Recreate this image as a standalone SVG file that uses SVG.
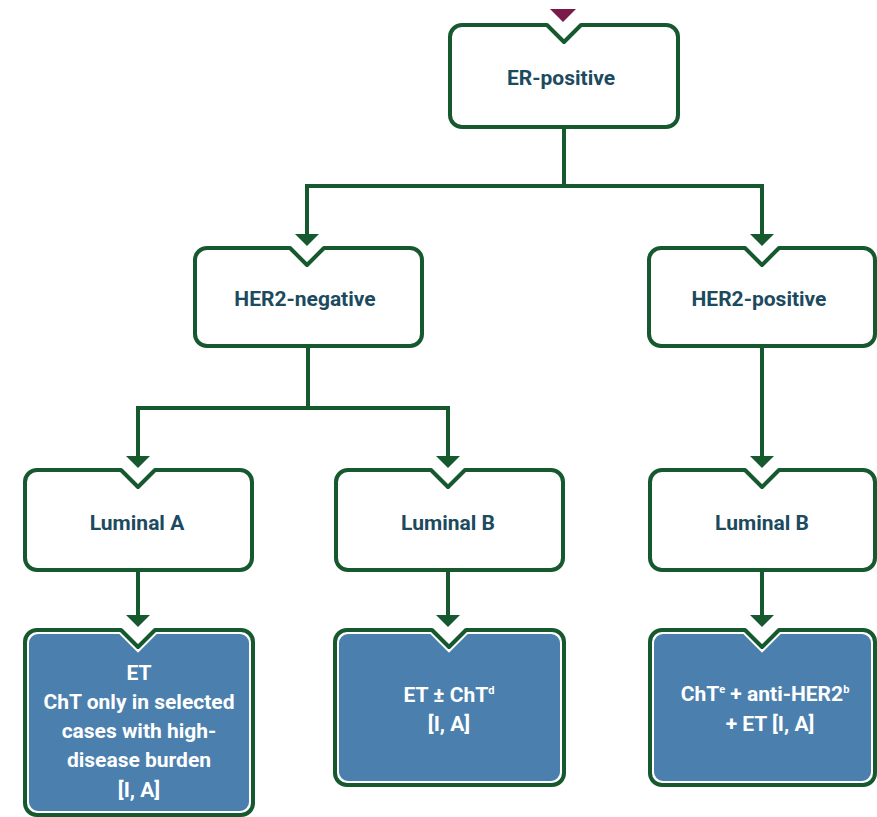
<svg xmlns="http://www.w3.org/2000/svg" width="877" height="817" viewBox="0 0 877 817">
<defs>
<style>
.box{fill:#ffffff;stroke:#17592e;stroke-width:4;stroke-linejoin:round}
.bout{fill:#ffffff;stroke:#17592e;stroke-width:4;stroke-linejoin:round}
.bin{fill:#4b7fae;stroke:none}
.lbl{font-family:Roboto,"Liberation Sans",sans-serif;font-weight:bold;font-size:21px;fill:#1c4a5e;text-anchor:middle}
.wt{font-family:Roboto,"Liberation Sans",sans-serif;font-weight:bold;font-size:21px;fill:#ffffff;text-anchor:middle}
.sup{font-size:11px}
.conn{fill:none;stroke:#17592e;stroke-width:4}
.ah{fill:#17592e}
</style>
</defs>
<rect width="877" height="817" fill="#ffffff"/>
<polygon points="550,9 576,9 563,22" fill="#7a1a4a"/>
<g id="connectors">
<path class="conn" d="M564,127 V186 M307,236 V186 H762 V236"/>
<polygon class="ah" points="295,234 319,234 307,246"/>
<polygon class="ah" points="750,234 774,234 762,246"/>
<path class="conn" d="M308,346 V408 M138,458 V408 H448 V458"/>
<polygon class="ah" points="126,456 150,456 138,468"/>
<polygon class="ah" points="436,456 460,456 448,468"/>
<path class="conn" d="M762,346 V458"/>
<polygon class="ah" points="750,456 774,456 762,468"/>
<path class="conn" d="M138,570 V617 M448,570 V617 M762,570 V617"/>
<polygon class="ah" points="126,615 150,615 138,627"/>
<polygon class="ah" points="436,615 460,615 448,627"/>
<polygon class="ah" points="750,615 774,615 762,627"/>
</g>
<g id="er-positive">
<path class="box" d="M462,25 H547 L564,42 L581,25 H666 A12,12 0 0 1 678,37 V115 A12,12 0 0 1 666,127 H462 A12,12 0 0 1 450,115 V37 A12,12 0 0 1 462,25 Z"/>
<text class="lbl" x="561" y="85">ER-positive</text>
</g>
<g id="her2-negative">
<path class="box" d="M207,248 H290 L307,265 L324,248 H410 A12,12 0 0 1 422,260 V334 A12,12 0 0 1 410,346 H207 A12,12 0 0 1 195,334 V260 A12,12 0 0 1 207,248 Z"/>
<text class="lbl" x="305" y="306">HER2-negative</text>
</g>
<g id="her2-positive">
<path class="box" d="M661,248 H745 L762,265 L779,248 H863 A12,12 0 0 1 875,260 V334 A12,12 0 0 1 863,346 H661 A12,12 0 0 1 649,334 V260 A12,12 0 0 1 661,248 Z"/>
<text class="lbl" x="759" y="306">HER2-positive</text>
</g>
<g id="luminal-a">
<path class="box" d="M37,470 H121 L138,487 L155,470 H240 A12,12 0 0 1 252,482 V558 A12,12 0 0 1 240,570 H37 A12,12 0 0 1 25,558 V482 A12,12 0 0 1 37,470 Z"/>
<text class="lbl" x="137" y="530">Luminal A</text>
</g>
<g id="luminal-b-neg">
<path class="box" d="M348,470 H431 L448,487 L465,470 H551 A12,12 0 0 1 563,482 V558 A12,12 0 0 1 551,570 H348 A12,12 0 0 1 336,558 V482 A12,12 0 0 1 348,470 Z"/>
<text class="lbl" x="448" y="530">Luminal B</text>
</g>
<g id="luminal-b-pos">
<path class="box" d="M662,470 H745 L762,487 L779,470 H863 A12,12 0 0 1 875,482 V558 A12,12 0 0 1 863,570 H662 A12,12 0 0 1 650,558 V482 A12,12 0 0 1 662,470 Z"/>
<text class="lbl" x="762" y="530">Luminal B</text>
</g>
<g id="treat-luminal-a">
<path class="bout" d="M37,630 H121 L138,647 L155,630 H241 A12,12 0 0 1 253,642 V803 A12,12 0 0 1 241,815 H37 A12,12 0 0 1 25,803 V642 A12,12 0 0 1 37,630 Z"/>
<path class="bin" d="M38,634 H119.3 L138,652.7 L156.7,634 H240 A9,9 0 0 1 249,643 V802 A9,9 0 0 1 240,811 H38 A9,9 0 0 1 29,802 V643 A9,9 0 0 1 38,634 Z"/>
<text class="wt" x="139" y="680">ET</text>
<text class="wt" x="139" y="709">ChT only in selected</text>
<text class="wt" x="139" y="738">cases with high-</text>
<text class="wt" x="139" y="767">disease burden</text>
<text class="wt" x="139" y="797">[I, A]</text>
</g>
<g id="treat-luminal-b-neg">
<path class="bout" d="M347,630 H432 L449,647 L466,630 H552 A12,12 0 0 1 564,642 V773 A12,12 0 0 1 552,785 H347 A12,12 0 0 1 335,773 V642 A12,12 0 0 1 347,630 Z"/>
<path class="bin" d="M348,634 H430.3 L449,652.7 L467.7,634 H551 A9,9 0 0 1 560,643 V772 A9,9 0 0 1 551,781 H348 A9,9 0 0 1 339,772 V643 A9,9 0 0 1 348,634 Z"/>
<text class="wt" x="449" y="702">ET ± ChT<tspan class="sup" dy="-8">d</tspan></text>
<text class="wt" x="449" y="731">[I, A]</text>
</g>
<g id="treat-luminal-b-pos">
<path class="bout" d="M662,630 H745 L762,647 L779,630 H863 A12,12 0 0 1 875,642 V773 A12,12 0 0 1 863,785 H662 A12,12 0 0 1 650,773 V642 A12,12 0 0 1 662,630 Z"/>
<path class="bin" d="M663,634 H743.3 L762,652.7 L780.7,634 H862 A9,9 0 0 1 871,643 V772 A9,9 0 0 1 862,781 H663 A9,9 0 0 1 654,772 V643 A9,9 0 0 1 663,634 Z"/>
<text class="wt" x="765" y="701">ChT<tspan class="sup" dy="-8">e</tspan><tspan dy="8"> + anti-HER2</tspan><tspan class="sup" dy="-8">b</tspan></text>
<text class="wt" x="770" y="731">+ ET [I, A]</text>
</g>
</svg>
